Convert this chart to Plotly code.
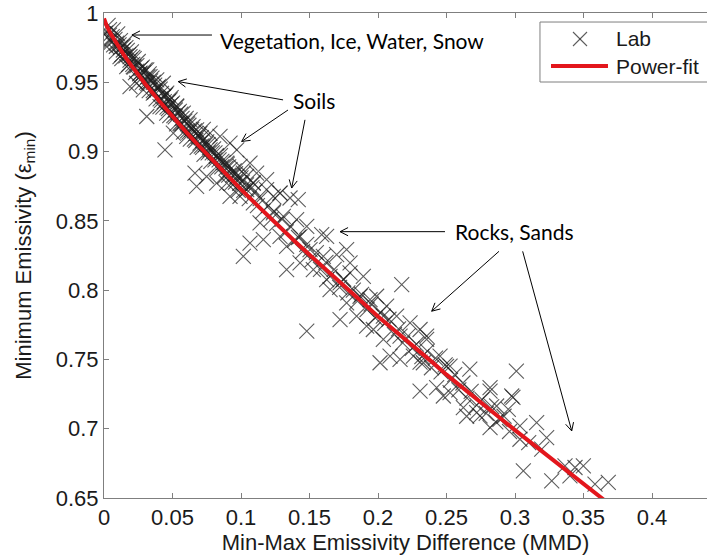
import math
import plotly.graph_objects as go

# Laboratory spectra: (min-max emissivity difference, minimum emissivity)
lab_points = [
    # vegetation / water / snow and soils (dense upper branch)
    (0.001, 0.9854), (0.0044, 0.9805), (0.002, 0.9757), (0.0068, 0.9878), (0.0093, 0.9782),
    (0.0141, 0.9733), (0.0117, 0.9685), (0.019, 0.9685), (0.0166, 0.9613), (0.0214, 0.9613),
    (0.0263, 0.9566), (0.0312, 0.959), (0.0336, 0.9541), (0.0385, 0.9517), (0.0433, 0.9493),
    (0.0238, 0.9493), (0.019, 0.9469), (0.0287, 0.9445), (0.036, 0.9421), (0.0458, 0.9421),
    (0.0312, 0.9253), (0.0482, 0.9373), (0.0531, 0.9325), (0.0409, 0.9325), (0.0458, 0.9277),
    (0.0579, 0.9277), (0.0628, 0.9229), (0.0555, 0.9205), (0.0676, 0.9157), (0.0725, 0.916),
    (0.0774, 0.9133), (0.0847, 0.9109), (0.092, 0.9061), (0.0969, 0.9013), (0.0445, 0.9013),
    (0.0506, 0.9133), (0.0604, 0.9109), (0.0701, 0.9061), (0.0774, 0.9013), (0.0822, 0.8965),
    (0.0896, 0.8917), (0.0993, 0.8893), (0.1017, 0.8845), (0.0664, 0.8845), (0.0676, 0.8749),
    (0.0749, 0.882), (0.0822, 0.8773), (0.0896, 0.8773), (0.092, 0.8677), (0.1042, 0.8725),
    (0.109, 0.8773), (0.1236, 0.8677), (0.1285, 0.870), (0.1187, 0.8797), (0.1114, 0.8845),
    (0.1066, 0.8917),
    (0.003, 0.991), (0.004, 0.984), (0.006, 0.983), (0.007, 0.977),
    (0.010, 0.985), (0.011, 0.977), (0.012, 0.980), (0.013, 0.970),
    (0.015, 0.978), (0.016, 0.969), (0.017, 0.973), (0.018, 0.963),
    (0.020, 0.972), (0.021, 0.963), (0.022, 0.967), (0.023, 0.957),
    (0.025, 0.965), (0.026, 0.956), (0.027, 0.960), (0.028, 0.950),
    (0.030, 0.959), (0.031, 0.950), (0.032, 0.954), (0.033, 0.944),
    (0.035, 0.953), (0.036, 0.944), (0.037, 0.948), (0.038, 0.938),
    (0.040, 0.947), (0.041, 0.938), (0.042, 0.942), (0.043, 0.932),
    (0.045, 0.941), (0.046, 0.932), (0.047, 0.936), (0.048, 0.926),
    (0.050, 0.935), (0.051, 0.926), (0.052, 0.930), (0.053, 0.920),
    (0.055, 0.929), (0.056, 0.920), (0.057, 0.924), (0.058, 0.914),
    (0.060, 0.924), (0.061, 0.915), (0.062, 0.919), (0.063, 0.909),
    (0.065, 0.918), (0.066, 0.909), (0.067, 0.913), (0.068, 0.903),
    (0.070, 0.913), (0.071, 0.904), (0.072, 0.908), (0.073, 0.898),
    (0.075, 0.907), (0.076, 0.899), (0.077, 0.903), (0.078, 0.893),
    (0.080, 0.902), (0.081, 0.894), (0.082, 0.897), (0.083, 0.888),
    (0.085, 0.897), (0.086, 0.889), (0.087, 0.892), (0.088, 0.882),
    (0.090, 0.891), (0.091, 0.883), (0.092, 0.887), (0.093, 0.877),
    (0.095, 0.886), (0.096, 0.878), (0.097, 0.882), (0.098, 0.872),
    (0.004, 0.988), (0.008, 0.981), (0.009, 0.976), (0.012, 0.975), (0.014, 0.976),
    (0.018, 0.970), (0.019, 0.966), (0.022, 0.961), (0.024, 0.962), (0.027, 0.955),
    (0.029, 0.957), (0.032, 0.949), (0.034, 0.951), (0.037, 0.943), (0.039, 0.946),
    (0.042, 0.937), (0.044, 0.940), (0.047, 0.931), (0.049, 0.934), (0.052, 0.925),
    (0.054, 0.928), (0.057, 0.920), (0.059, 0.922), (0.062, 0.914), (0.064, 0.916),
    (0.067, 0.908), (0.069, 0.911), (0.072, 0.903), (0.074, 0.905), (0.079, 0.899),
    (0.084, 0.894), (0.089, 0.888), (0.094, 0.883), (0.099, 0.877),
    (0.005, 0.980), (0.009, 0.972), (0.013, 0.967), (0.016, 0.975), (0.021, 0.968),
    (0.024, 0.958), (0.028, 0.961), (0.033, 0.956), (0.036, 0.950), (0.041, 0.945),
    (0.044, 0.936), (0.049, 0.939), (0.053, 0.933), (0.056, 0.927), (0.061, 0.920),
    (0.066, 0.915), (0.071, 0.910), (0.076, 0.905), (0.081, 0.899), (0.086, 0.893),
    (0.091, 0.889), (0.096, 0.884), (0.101, 0.878), (0.108, 0.874),
    # soils and rocks (middle branch)
    (0.100, 0.881), (0.102, 0.872), (0.104, 0.876), (0.106, 0.866),
    (0.110, 0.871), (0.112, 0.861), (0.114, 0.866), (0.116, 0.857),
    (0.120, 0.861), (0.122, 0.851), (0.124, 0.857), (0.126, 0.848),
    (0.130, 0.851), (0.133, 0.842), (0.136, 0.846), (0.139, 0.836),
    (0.142, 0.838), (0.145, 0.828), (0.148, 0.833), (0.152, 0.822), (0.155, 0.827), (0.158, 0.815),
    (0.162, 0.820), (0.165, 0.810), (0.168, 0.815), (0.172, 0.802), (0.175, 0.808), (0.178, 0.798),
    (0.182, 0.800), (0.185, 0.792), (0.188, 0.797), (0.192, 0.786), (0.195, 0.790), (0.198, 0.780),
    (0.1358, 0.8665), (0.1418, 0.8653), (0.1285, 0.870), (0.1187, 0.8725), (0.1088, 0.8775),
    (0.104, 0.882), (0.1309, 0.8532), (0.1236, 0.8557), (0.1406, 0.8509), (0.148, 0.846),
    (0.1589, 0.840), (0.1139, 0.8485), (0.1066, 0.834), (0.1017, 0.8244), (0.1163, 0.8365),
    (0.1285, 0.8388), (0.1333, 0.8316), (0.1431, 0.8388), (0.1504, 0.8293), (0.1601, 0.8244),
    (0.1698, 0.8256), (0.1771, 0.8293), (0.1796, 0.8197), (0.1893, 0.810), (0.1747, 0.8076),
    (0.1625, 0.8076), (0.1528, 0.8148), (0.1431, 0.8197), (0.1333, 0.8148), (0.148, 0.7704),
    (0.165, 0.8004), (0.1771, 0.7908), (0.1844, 0.7812), (0.1723, 0.7788), (0.1942, 0.7932),
    (0.199, 0.7956), (0.2063, 0.7884), (0.2173, 0.804), (0.2136, 0.7812), (0.2234, 0.7764),
    (0.2307, 0.7716), (0.2355, 0.7644), (0.2161, 0.7668), (0.2039, 0.7644), (0.1966, 0.7716),
    (0.1917, 0.774), (0.2088, 0.7524), (0.2161, 0.750), (0.2258, 0.7524), (0.2331, 0.7476),
    (0.2015, 0.7476), (0.2453, 0.7524), (0.2526, 0.7452), (0.109, 0.863), (0.0993, 0.8677),
    (0.1625, 0.8388), (0.1796, 0.8125), (0.1723, 0.8053), (0.1869, 0.7956), (0.2039, 0.7812),
    # rocks and sands (lower branch)
    (0.202, 0.784), (0.205, 0.776), (0.208, 0.779), (0.212, 0.768), (0.215, 0.772), (0.218, 0.762),
    (0.222, 0.767), (0.225, 0.758), (0.228, 0.761), (0.232, 0.752), (0.236, 0.756), (0.239, 0.744),
    (0.242, 0.751), (0.246, 0.741), (0.249, 0.746), (0.253, 0.735), (0.256, 0.739), (0.259, 0.728),
    (0.262, 0.733), (0.265, 0.722), (0.268, 0.727), (0.272, 0.717), (0.276, 0.721), (0.279, 0.711),
    (0.283, 0.716), (0.286, 0.705), (0.292, 0.709), (0.296, 0.698), (0.310, 0.690),
    (0.2355, 0.7668), (0.2307, 0.748), (0.250, 0.745), (0.267, 0.743), (0.301, 0.7416),
    (0.2307, 0.7272), (0.2428, 0.7296), (0.2526, 0.726), (0.2818, 0.7296), (0.2976, 0.7236),
    (0.2623, 0.7152), (0.272, 0.7116), (0.2745, 0.7092), (0.2647, 0.709), (0.2866, 0.7164),
    (0.2951, 0.714), (0.2818, 0.7008), (0.289, 0.7068), (0.3036, 0.702), (0.3158, 0.7044),
    (0.3036, 0.6924), (0.3231, 0.6936), (0.3195, 0.6852), (0.3061, 0.6695), (0.3268, 0.6624),
    (0.3365, 0.6732), (0.3438, 0.672), (0.3499, 0.6732), (0.3401, 0.666), (0.3584, 0.660),
    (0.3681, 0.6612), (0.2477, 0.7236), (0.2818, 0.7272), (0.2985, 0.7226),
]
lab_mmd = [p[0] for p in lab_points]
lab_emin = [p[1] for p in lab_points]

# Power-law fit curve
fit_mmd = [0, 0.002, 0.005, 0.01, 0.015, 0.02, 0.025, 0.03, 0.04, 0.05, 0.06, 0.07, 0.08,
           0.09, 0.1, 0.11, 0.12, 0.13, 0.14, 0.15, 0.16, 0.17, 0.18, 0.19, 0.2, 0.21,
           0.22, 0.23, 0.24, 0.25, 0.26, 0.27, 0.28, 0.29, 0.3, 0.31, 0.32, 0.33, 0.34,
           0.35, 0.36, 0.365]
fit_emin = [0.996, 0.9906, 0.9848, 0.9765, 0.969, 0.962, 0.9553, 0.949, 0.9368, 0.925,
            0.914, 0.9033, 0.8929, 0.8826, 0.8727, 0.863, 0.8533, 0.8439, 0.8346, 0.8255,
            0.8164, 0.8076, 0.7987, 0.790, 0.781, 0.7729, 0.7643, 0.756, 0.7477, 0.739,
            0.7312, 0.723, 0.715, 0.707, 0.699, 0.6912, 0.6832, 0.6755, 0.6678, 0.660,
            0.6524, 0.6486]

x_ticks = [0, 0.05, 0.1, 0.15, 0.2, 0.25, 0.3, 0.35, 0.4]
x_tick_text = ["0", "0.05", "0.1", "0.15", "0.2", "0.25", "0.3", "0.35", "0.4"]
y_ticks = [0.65, 0.7, 0.75, 0.8, 0.85, 0.9, 0.95, 1.0]
y_tick_text = ["0.65", "0.7", "0.75", "0.8", "0.85", "0.9", "0.95", "1"]

x_title = "Min-Max Emissivity Difference (MMD)"
y_title = "Minimum Emissivity (\u03b5<sub>min</sub>)"

# Callout labels and their arrows (tail -> head, data coordinates)
callouts = [
    ("Vegetation, Ice, Water, Snow", 0.0832, 0.9805, "left"),
    ("Soils", 0.1533, 0.937, "center"),
    ("Rocks, Sands", 0.2996, 0.8424, "center"),
]
arrows = [
    ((0.0788, 0.9841), (0.0204, 0.9841)),
    ((0.1307, 0.9373), (0.0542, 0.9505)),
    ((0.1343, 0.9300), (0.1005, 0.9073)),
    ((0.1467, 0.9229), (0.1370, 0.8737)),
    ((0.2489, 0.8422), (0.1723, 0.8422)),
    ((0.2883, 0.8280), (0.2392, 0.7848)),
    ((0.3056, 0.8280), (0.3414, 0.6984)),
]

AX_FONT = "Liberation Sans, Arial, Helvetica, sans-serif"
NOTE_FONT = "Lato, Carlito, Calibri, sans-serif"
AXIS_GREY = "#7f7f7f"
TEXT_DARK = "#1a1a1a"
FIT_RED = "#e3161c"
MARK_GREY = "rgba(30,30,30,0.72)"

X_RANGE = [0, 0.44015]
Y_RANGE = [0.65, 1.0]
PLOT_W, PLOT_H = 603, 485
SX = PLOT_W / (X_RANGE[1] - X_RANGE[0])   # pixels per x unit
SY = PLOT_H / (Y_RANGE[1] - Y_RANGE[0])   # pixels per y unit

fig = go.Figure()
fig.add_trace(go.Scatter(
    x=lab_mmd, y=lab_emin, mode="markers", name="Lab",
    marker=dict(symbol="x-thin", size=15, color=MARK_GREY,
                line=dict(width=1.1, color=MARK_GREY)),
))
fig.add_trace(go.Scatter(
    x=fit_mmd, y=fit_emin, mode="lines", name="Power-fit",
    line=dict(color=FIT_RED, width=4),
))

for text, x, y, anchor in callouts:
    fig.add_annotation(x=x, y=y, text=text, showarrow=False, xanchor=anchor,
                       yanchor="middle", font=dict(family=NOTE_FONT, size=21, color="black"))


def arrow_shapes(tail, head, head_len=9.0, half_angle=27.0):
    """Thin line with an open V head, built from line shapes in data space."""
    (tx, ty), (hx, hy) = tail, head
    shapes = [dict(type="line", xref="x", yref="y", x0=tx, y0=ty, x1=hx, y1=hy,
                   line=dict(color="black", width=1))]
    # direction from head back to tail, in screen pixels (y up)
    vx, vy = (tx - hx) * SX, (ty - hy) * SY
    n = math.hypot(vx, vy)
    vx, vy = vx / n, vy / n
    for sgn in (1, -1):
        a = math.radians(half_angle) * sgn
        rx = vx * math.cos(a) - vy * math.sin(a)
        ry = vx * math.sin(a) + vy * math.cos(a)
        shapes.append(dict(type="line", xref="x", yref="y", x0=hx, y0=hy,
                           x1=hx + rx * head_len / SX, y1=hy + ry * head_len / SY,
                           line=dict(color="black", width=1)))
    return shapes


for tail, head in arrows:
    for s in arrow_shapes(tail, head):
        fig.add_shape(**s)

# legend box drawn by hand (runs off the right edge)
fig.add_shape(type="rect", xref="paper", yref="paper", x0=0.723, x1=1.05, y0=0.8577, y1=0.9814,
              line=dict(color=AXIS_GREY, width=1), fillcolor="white")
mx, my, dx, dy = 0.7894, 0.9464, 7 / PLOT_W, 7 / PLOT_H
fig.add_shape(type="line", xref="paper", yref="paper", x0=mx - dx, x1=mx + dx, y0=my - dy, y1=my + dy,
              line=dict(color=MARK_GREY, width=1.1))
fig.add_shape(type="line", xref="paper", yref="paper", x0=mx - dx, x1=mx + dx, y0=my + dy, y1=my - dy,
              line=dict(color=MARK_GREY, width=1.1))
fig.add_shape(type="line", xref="paper", yref="paper", x0=0.7413, x1=0.8358, y0=0.8907, y1=0.8907,
              line=dict(color=FIT_RED, width=4))
for text, y in (("Lab", 0.9464), ("Power-fit", 0.8907)):
    fig.add_annotation(xref="paper", yref="paper", x=0.8458, y=y, text=text, showarrow=False,
                       xanchor="left", yanchor="middle",
                       font=dict(family=AX_FONT, size=21, color=TEXT_DARK))

axis_common = dict(
    showgrid=False, zeroline=False, showline=True, linecolor=AXIS_GREY, linewidth=1,
    ticks="inside", ticklen=5, tickcolor=AXIS_GREY, tickwidth=1,
    tickfont=dict(family=AX_FONT, size=22, color=TEXT_DARK),
)
fig.update_xaxes(range=X_RANGE, tickmode="array", tickvals=x_ticks, ticktext=x_tick_text,
                 mirror="ticks",
                 title=dict(text=x_title, standoff=4,
                            font=dict(family=AX_FONT, size=22, color=TEXT_DARK)),
                 **axis_common)
fig.update_yaxes(range=Y_RANGE, tickmode="array", tickvals=y_ticks, ticktext=y_tick_text,
                 mirror=False,
                 title=dict(text=y_title, standoff=18,
                            font=dict(family=AX_FONT, size=22, color=TEXT_DARK)),
                 **axis_common)

fig.update_layout(
    width=707, height=560, showlegend=False,
    margin=dict(l=104, r=0, t=13, b=62, pad=0, autoexpand=False),
    paper_bgcolor="white", plot_bgcolor="white",
)

fig.write_html("out.html")
